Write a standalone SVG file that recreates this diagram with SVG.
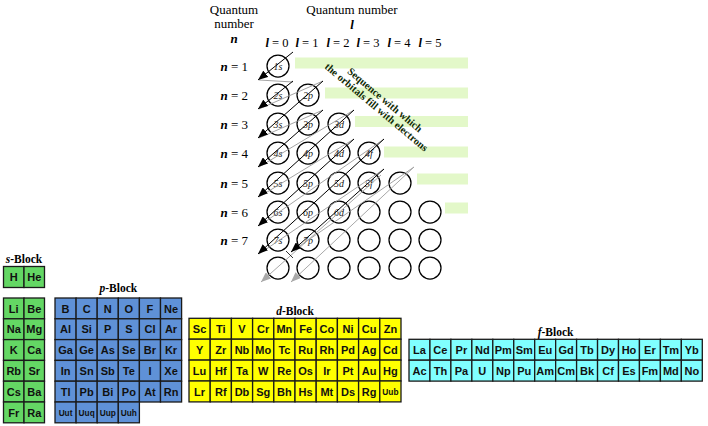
<svg xmlns="http://www.w3.org/2000/svg" width="708" height="426" viewBox="0 0 708 426">
<style>
.hd{font-family:"Liberation Serif",serif;font-size:13px;fill:#000}
.lq{font-family:"Liberation Serif",serif;font-size:12.5px;fill:#000}
.bi{font-weight:bold;font-style:italic}
.orb{fill:#fff;stroke:#000;stroke-width:1.25}
.ol{font-family:"Liberation Serif",serif;font-style:italic;font-size:10px;fill:#222;text-anchor:middle}
.bar{fill:#e3f8c9}
.seq{font-family:"Liberation Serif",serif;font-weight:bold;font-size:10.5px;fill:#0f2a05;text-anchor:middle}
.ttl{font-family:"Liberation Serif",serif;font-weight:bold;font-size:11.5px;text-anchor:middle;fill:#000}
.s{fill:#64d764;stroke:#1a1a1a;stroke-width:1.3}
.p{fill:#5f91d7;stroke:#1a1a1a;stroke-width:1.3}
.d{fill:#ffff00;stroke:#1a1a1a;stroke-width:1.3}
.f{fill:#80ffff;stroke:#1a1a1a;stroke-width:1.3}
.e{font-family:"Liberation Sans",Arial,sans-serif;font-weight:bold;font-size:11px;text-anchor:middle;fill:#111}
.es{font-size:8.3px}
.ab{stroke:#000;stroke-width:1;fill:none;marker-end:url(#hb)}
.ag{stroke:#a8a8a8;stroke-width:1;fill:none;marker-end:url(#hg)}
.zz{stroke:#9a9a9a;stroke-width:0.9;fill:none}
</style>
<defs>
<marker id="hb" markerUnits="userSpaceOnUse" markerWidth="10" markerHeight="8" refX="10" refY="4" orient="auto"><path d="M0,0 L10,4 L0,8 z" fill="#000"/></marker>
<marker id="hg" markerUnits="userSpaceOnUse" markerWidth="10" markerHeight="8" refX="10" refY="4" orient="auto"><path d="M0,0 L10,4 L0,8 z" fill="#a8a8a8"/></marker>
</defs>

<g id="headers">
<text class="hd" x="234" y="13.5" text-anchor="middle">Quantum</text>
<text class="hd" x="234" y="28" text-anchor="middle">number</text>
<text class="hd bi" x="234" y="42.5" text-anchor="middle">n</text>
<text class="hd" x="352" y="13.5" text-anchor="middle">Quantum number</text>
<text class="hd bi" x="352" y="29" text-anchor="middle">l</text>
<text class="lq" x="277" y="46.5" text-anchor="middle"><tspan class="bi">l</tspan> = 0</text>
<text class="lq" x="307" y="46.5" text-anchor="middle"><tspan class="bi">l</tspan> = 1</text>
<text class="lq" x="338" y="46.5" text-anchor="middle"><tspan class="bi">l</tspan> = 2</text>
<text class="lq" x="368" y="46.5" text-anchor="middle"><tspan class="bi">l</tspan> = 3</text>
<text class="lq" x="399" y="46.5" text-anchor="middle"><tspan class="bi">l</tspan> = 4</text>
<text class="lq" x="430" y="46.5" text-anchor="middle"><tspan class="bi">l</tspan> = 5</text>
<text class="hd" x="248" y="71" text-anchor="end" font-size="13.5"><tspan class="bi">n</tspan> = 1</text>
<text class="hd" x="248" y="100" text-anchor="end" font-size="13.5"><tspan class="bi">n</tspan> = 2</text>
<text class="hd" x="248" y="129" text-anchor="end" font-size="13.5"><tspan class="bi">n</tspan> = 3</text>
<text class="hd" x="248" y="158" text-anchor="end" font-size="13.5"><tspan class="bi">n</tspan> = 4</text>
<text class="hd" x="248" y="188" text-anchor="end" font-size="13.5"><tspan class="bi">n</tspan> = 5</text>
<text class="hd" x="248" y="217" text-anchor="end" font-size="13.5"><tspan class="bi">n</tspan> = 6</text>
<text class="hd" x="248" y="245" text-anchor="end" font-size="13.5"><tspan class="bi">n</tspan> = 7</text>
</g>

<g id="bars">
<rect class="bar" x="295" y="57.5" width="173" height="11"/>
<rect class="bar" x="325" y="87.5" width="143" height="11"/>
<rect class="bar" x="355" y="116" width="113" height="11"/>
<rect class="bar" x="384" y="146.5" width="84" height="11"/>
<rect class="bar" x="417" y="173.5" width="51" height="11"/>
<rect class="bar" x="445" y="202.5" width="23" height="11"/>
</g>

<g id="orbitals">
<g id="o1s"><circle class="orb" cx="278" cy="66" r="11"/><text class="ol" x="278" y="69.5">1s</text></g>
<g id="o2s"><circle class="orb" cx="278" cy="95" r="11"/><text class="ol" x="278" y="98.5">2s</text></g>
<g id="o2p"><circle class="orb" cx="308" cy="95" r="11"/><text class="ol" x="308" y="98.5">2p</text></g>
<g id="o3s"><circle class="orb" cx="278" cy="124" r="11"/><text class="ol" x="278" y="127.5">3s</text></g>
<g id="o3p"><circle class="orb" cx="308" cy="124" r="11"/><text class="ol" x="308" y="127.5">3p</text></g>
<g id="o3d"><circle class="orb" cx="339" cy="124" r="11"/><text class="ol" x="339" y="127.5">3d</text></g>
<g id="o4s"><circle class="orb" cx="278" cy="153" r="11"/><text class="ol" x="278" y="156.5">4s</text></g>
<g id="o4p"><circle class="orb" cx="308" cy="153" r="11"/><text class="ol" x="308" y="156.5">4p</text></g>
<g id="o4d"><circle class="orb" cx="339" cy="153" r="11"/><text class="ol" x="339" y="156.5">4d</text></g>
<g id="o4f"><circle class="orb" cx="369" cy="153" r="11"/><text class="ol" x="369" y="156.5">4f</text></g>
<g id="o5s"><circle class="orb" cx="278" cy="183" r="11"/><text class="ol" x="278" y="186.5">5s</text></g>
<g id="o5p"><circle class="orb" cx="308" cy="183" r="11"/><text class="ol" x="308" y="186.5">5p</text></g>
<g id="o5d"><circle class="orb" cx="339" cy="183" r="11"/><text class="ol" x="339" y="186.5">5d</text></g>
<g id="o5f"><circle class="orb" cx="369" cy="183" r="11"/><text class="ol" x="369" y="186.5">5f</text></g>
<g id="o5g"><circle class="orb" cx="400" cy="183" r="11"/></g>
<g id="o6s"><circle class="orb" cx="278" cy="212" r="11"/><text class="ol" x="278" y="215.5">6s</text></g>
<g id="o6p"><circle class="orb" cx="308" cy="212" r="11"/><text class="ol" x="308" y="215.5">6p</text></g>
<g id="o6d"><circle class="orb" cx="339" cy="212" r="11"/><text class="ol" x="339" y="215.5">6d</text></g>
<g id="o6f"><circle class="orb" cx="369" cy="212" r="11"/></g>
<g id="o6g"><circle class="orb" cx="400" cy="212" r="11"/></g>
<g id="o6h"><circle class="orb" cx="430" cy="212" r="11"/></g>
<g id="o7s"><circle class="orb" cx="278" cy="240" r="11"/><text class="ol" x="278" y="243.5">7s</text></g>
<g id="o7p"><circle class="orb" cx="308" cy="240" r="11"/><text class="ol" x="308" y="243.5">7p</text></g>
<g id="o7d"><circle class="orb" cx="339" cy="240" r="11"/></g>
<g id="o7f"><circle class="orb" cx="369" cy="240" r="11"/></g>
<g id="o7g"><circle class="orb" cx="400" cy="240" r="11"/></g>
<g id="o7h"><circle class="orb" cx="430" cy="240" r="11"/></g>
<g id="o8s"><circle class="orb" cx="278" cy="268" r="11"/></g>
<g id="o8p"><circle class="orb" cx="308" cy="268" r="11"/></g>
<g id="o8d"><circle class="orb" cx="339" cy="268" r="11"/></g>
<g id="o8f"><circle class="orb" cx="369" cy="268" r="11"/></g>
<g id="o8g"><circle class="orb" cx="400" cy="268" r="11"/></g>
<g id="o8h"><circle class="orb" cx="430" cy="268" r="11"/></g>
</g>

<g id="connectors">
<path class="zz" d="M259,80 L293,82"/>
<path class="zz" d="M259,109 L323,81"/>
<path class="zz" d="M259,138 L323,110"/>
<path class="zz" d="M259,167 L354,110"/>
<path class="zz" d="M259,197 L354,139"/>
<path class="zz" d="M259,226 L384,139"/>
<path class="zz" d="M259,254 L384,169"/>
<path class="zz" d="M291,252 L414,167"/>
<path class="ag" d="M414,167 L291,282"/>
<path class="ag" d="M381,175 L261,282"/>
<path class="ab" d="M293,52 L258,80"/>
<path class="ab" d="M293,81 L258,109"/>
<path class="ab" d="M323,81 L258,138"/>
<path class="ab" d="M323,110 L258,167"/>
<path class="ab" d="M354,110 L258,197"/>
<path class="ab" d="M354,139 L258,226"/>
<path class="ab" d="M384,139 L258,254"/>
<path class="ab" d="M384,169 L291,252"/>
<path d="M286,251 L293,258" stroke="#000" stroke-width="0.8"/>
</g>

<g id="sequence-label" transform="translate(385,100) rotate(40)">
<text class="seq" x="0" y="3.5">Sequence with which</text>
<text class="seq" x="-2" y="14.5">the orbitals fill with electrons</text>
</g>

<g id="s-block">
<text class="ttl" x="24" y="263"><tspan font-style="italic">s</tspan>-Block</text>
<g id="H"><rect class="s" x="3.5" y="266.5" width="20.5" height="21"/><text class="e" x="13.75" y="281">H</text></g>
<g id="He"><rect class="s" x="24" y="266.5" width="20.5" height="21"/><text class="e" x="34.25" y="281">He</text></g>
<g id="Li"><rect class="s" x="3.5" y="298" width="20.5" height="20.8"/><text class="e" x="13.75" y="312.5">Li</text></g>
<g id="Be"><rect class="s" x="24" y="298" width="20.5" height="20.8"/><text class="e" x="34.25" y="312.5">Be</text></g>
<g id="Na"><rect class="s" x="3.5" y="318.8" width="20.5" height="20.8"/><text class="e" x="13.75" y="333.3">Na</text></g>
<g id="Mg"><rect class="s" x="24" y="318.8" width="20.5" height="20.8"/><text class="e" x="34.25" y="333.3">Mg</text></g>
<g id="K"><rect class="s" x="3.5" y="339.6" width="20.5" height="20.8"/><text class="e" x="13.75" y="354.1">K</text></g>
<g id="Ca"><rect class="s" x="24" y="339.6" width="20.5" height="20.8"/><text class="e" x="34.25" y="354.1">Ca</text></g>
<g id="Rb"><rect class="s" x="3.5" y="360.4" width="20.5" height="20.8"/><text class="e" x="13.75" y="374.9">Rb</text></g>
<g id="Sr"><rect class="s" x="24" y="360.4" width="20.5" height="20.8"/><text class="e" x="34.25" y="374.9">Sr</text></g>
<g id="Cs"><rect class="s" x="3.5" y="381.2" width="20.5" height="20.8"/><text class="e" x="13.75" y="395.7">Cs</text></g>
<g id="Ba"><rect class="s" x="24" y="381.2" width="20.5" height="20.8"/><text class="e" x="34.25" y="395.7">Ba</text></g>
<g id="Fr"><rect class="s" x="3.5" y="402" width="20.5" height="20.8"/><text class="e" x="13.75" y="416.5">Fr</text></g>
<g id="Ra"><rect class="s" x="24" y="402" width="20.5" height="20.8"/><text class="e" x="34.25" y="416.5">Ra</text></g>
</g>

<g id="p-block">
<text class="ttl" x="118.3" y="292"><tspan font-style="italic">p</tspan>-Block</text>
<g id="B"><rect class="p" x="55" y="298" width="21.1" height="20.8"/><text class="e" x="65.55" y="312.5">B</text></g>
<g id="C"><rect class="p" x="76.1" y="298" width="21.1" height="20.8"/><text class="e" x="86.65" y="312.5">C</text></g>
<g id="N"><rect class="p" x="97.2" y="298" width="21.1" height="20.8"/><text class="e" x="107.75" y="312.5">N</text></g>
<g id="O"><rect class="p" x="118.3" y="298" width="21.1" height="20.8"/><text class="e" x="128.85" y="312.5">O</text></g>
<g id="F"><rect class="p" x="139.4" y="298" width="21.1" height="20.8"/><text class="e" x="149.95" y="312.5">F</text></g>
<g id="Ne"><rect class="p" x="160.5" y="298" width="21.1" height="20.8"/><text class="e" x="171.05" y="312.5">Ne</text></g>
<g id="Al"><rect class="p" x="55" y="318.8" width="21.1" height="20.8"/><text class="e" x="65.55" y="333.3">Al</text></g>
<g id="Si"><rect class="p" x="76.1" y="318.8" width="21.1" height="20.8"/><text class="e" x="86.65" y="333.3">Si</text></g>
<g id="P"><rect class="p" x="97.2" y="318.8" width="21.1" height="20.8"/><text class="e" x="107.75" y="333.3">P</text></g>
<g id="S"><rect class="p" x="118.3" y="318.8" width="21.1" height="20.8"/><text class="e" x="128.85" y="333.3">S</text></g>
<g id="Cl"><rect class="p" x="139.4" y="318.8" width="21.1" height="20.8"/><text class="e" x="149.95" y="333.3">Cl</text></g>
<g id="Ar"><rect class="p" x="160.5" y="318.8" width="21.1" height="20.8"/><text class="e" x="171.05" y="333.3">Ar</text></g>
<g id="Ga"><rect class="p" x="55" y="339.6" width="21.1" height="20.8"/><text class="e" x="65.55" y="354.1">Ga</text></g>
<g id="Ge"><rect class="p" x="76.1" y="339.6" width="21.1" height="20.8"/><text class="e" x="86.65" y="354.1">Ge</text></g>
<g id="As"><rect class="p" x="97.2" y="339.6" width="21.1" height="20.8"/><text class="e" x="107.75" y="354.1">As</text></g>
<g id="Se"><rect class="p" x="118.3" y="339.6" width="21.1" height="20.8"/><text class="e" x="128.85" y="354.1">Se</text></g>
<g id="Br"><rect class="p" x="139.4" y="339.6" width="21.1" height="20.8"/><text class="e" x="149.95" y="354.1">Br</text></g>
<g id="Kr"><rect class="p" x="160.5" y="339.6" width="21.1" height="20.8"/><text class="e" x="171.05" y="354.1">Kr</text></g>
<g id="In"><rect class="p" x="55" y="360.4" width="21.1" height="20.8"/><text class="e" x="65.55" y="374.9">In</text></g>
<g id="Sn"><rect class="p" x="76.1" y="360.4" width="21.1" height="20.8"/><text class="e" x="86.65" y="374.9">Sn</text></g>
<g id="Sb"><rect class="p" x="97.2" y="360.4" width="21.1" height="20.8"/><text class="e" x="107.75" y="374.9">Sb</text></g>
<g id="Te"><rect class="p" x="118.3" y="360.4" width="21.1" height="20.8"/><text class="e" x="128.85" y="374.9">Te</text></g>
<g id="I"><rect class="p" x="139.4" y="360.4" width="21.1" height="20.8"/><text class="e" x="149.95" y="374.9">I</text></g>
<g id="Xe"><rect class="p" x="160.5" y="360.4" width="21.1" height="20.8"/><text class="e" x="171.05" y="374.9">Xe</text></g>
<g id="Tl"><rect class="p" x="55" y="381.2" width="21.1" height="20.8"/><text class="e" x="65.55" y="395.7">Tl</text></g>
<g id="Pb"><rect class="p" x="76.1" y="381.2" width="21.1" height="20.8"/><text class="e" x="86.65" y="395.7">Pb</text></g>
<g id="Bi"><rect class="p" x="97.2" y="381.2" width="21.1" height="20.8"/><text class="e" x="107.75" y="395.7">Bi</text></g>
<g id="Po"><rect class="p" x="118.3" y="381.2" width="21.1" height="20.8"/><text class="e" x="128.85" y="395.7">Po</text></g>
<g id="At"><rect class="p" x="139.4" y="381.2" width="21.1" height="20.8"/><text class="e" x="149.95" y="395.7">At</text></g>
<g id="Rn"><rect class="p" x="160.5" y="381.2" width="21.1" height="20.8"/><text class="e" x="171.05" y="395.7">Rn</text></g>
<g id="Uut"><rect class="p" x="55" y="402" width="21.1" height="20.8"/><text class="e es" x="65.55" y="415.5">Uut</text></g>
<g id="Uuq"><rect class="p" x="76.1" y="402" width="21.1" height="20.8"/><text class="e es" x="86.65" y="415.5">Uuq</text></g>
<g id="Uup"><rect class="p" x="97.2" y="402" width="21.1" height="20.8"/><text class="e es" x="107.75" y="415.5">Uup</text></g>
<g id="Uuh"><rect class="p" x="118.3" y="402" width="21.1" height="20.8"/><text class="e es" x="128.85" y="415.5">Uuh</text></g>
</g>

<g id="d-block">
<text class="ttl" x="295" y="315"><tspan font-style="italic">d</tspan>-Block</text>
<g id="Sc"><rect class="d" x="189" y="318.3" width="21.2" height="20.9"/><text class="e" x="199.6" y="332.9">Sc</text></g>
<g id="Ti"><rect class="d" x="210.2" y="318.3" width="21.2" height="20.9"/><text class="e" x="220.8" y="332.9">Ti</text></g>
<g id="V"><rect class="d" x="231.4" y="318.3" width="21.2" height="20.9"/><text class="e" x="242" y="332.9">V</text></g>
<g id="Cr"><rect class="d" x="252.6" y="318.3" width="21.2" height="20.9"/><text class="e" x="263.2" y="332.9">Cr</text></g>
<g id="Mn"><rect class="d" x="273.8" y="318.3" width="21.2" height="20.9"/><text class="e" x="284.4" y="332.9">Mn</text></g>
<g id="Fe"><rect class="d" x="295" y="318.3" width="21.2" height="20.9"/><text class="e" x="305.6" y="332.9">Fe</text></g>
<g id="Co"><rect class="d" x="316.2" y="318.3" width="21.2" height="20.9"/><text class="e" x="326.8" y="332.9">Co</text></g>
<g id="Ni"><rect class="d" x="337.4" y="318.3" width="21.2" height="20.9"/><text class="e" x="348" y="332.9">Ni</text></g>
<g id="Cu"><rect class="d" x="358.6" y="318.3" width="21.2" height="20.9"/><text class="e" x="369.2" y="332.9">Cu</text></g>
<g id="Zn"><rect class="d" x="379.8" y="318.3" width="21.2" height="20.9"/><text class="e" x="390.4" y="332.9">Zn</text></g>
<g id="Y"><rect class="d" x="189" y="339.2" width="21.2" height="20.9"/><text class="e" x="199.6" y="353.8">Y</text></g>
<g id="Zr"><rect class="d" x="210.2" y="339.2" width="21.2" height="20.9"/><text class="e" x="220.8" y="353.8">Zr</text></g>
<g id="Nb"><rect class="d" x="231.4" y="339.2" width="21.2" height="20.9"/><text class="e" x="242" y="353.8">Nb</text></g>
<g id="Mo"><rect class="d" x="252.6" y="339.2" width="21.2" height="20.9"/><text class="e" x="263.2" y="353.8">Mo</text></g>
<g id="Tc"><rect class="d" x="273.8" y="339.2" width="21.2" height="20.9"/><text class="e" x="284.4" y="353.8">Tc</text></g>
<g id="Ru"><rect class="d" x="295" y="339.2" width="21.2" height="20.9"/><text class="e" x="305.6" y="353.8">Ru</text></g>
<g id="Rh"><rect class="d" x="316.2" y="339.2" width="21.2" height="20.9"/><text class="e" x="326.8" y="353.8">Rh</text></g>
<g id="Pd"><rect class="d" x="337.4" y="339.2" width="21.2" height="20.9"/><text class="e" x="348" y="353.8">Pd</text></g>
<g id="Ag"><rect class="d" x="358.6" y="339.2" width="21.2" height="20.9"/><text class="e" x="369.2" y="353.8">Ag</text></g>
<g id="Cd"><rect class="d" x="379.8" y="339.2" width="21.2" height="20.9"/><text class="e" x="390.4" y="353.8">Cd</text></g>
<g id="Lu"><rect class="d" x="189" y="360.1" width="21.2" height="20.9"/><text class="e" x="199.6" y="374.7">Lu</text></g>
<g id="Hf"><rect class="d" x="210.2" y="360.1" width="21.2" height="20.9"/><text class="e" x="220.8" y="374.7">Hf</text></g>
<g id="Ta"><rect class="d" x="231.4" y="360.1" width="21.2" height="20.9"/><text class="e" x="242" y="374.7">Ta</text></g>
<g id="W"><rect class="d" x="252.6" y="360.1" width="21.2" height="20.9"/><text class="e" x="263.2" y="374.7">W</text></g>
<g id="Re"><rect class="d" x="273.8" y="360.1" width="21.2" height="20.9"/><text class="e" x="284.4" y="374.7">Re</text></g>
<g id="Os"><rect class="d" x="295" y="360.1" width="21.2" height="20.9"/><text class="e" x="305.6" y="374.7">Os</text></g>
<g id="Ir"><rect class="d" x="316.2" y="360.1" width="21.2" height="20.9"/><text class="e" x="326.8" y="374.7">Ir</text></g>
<g id="Pt"><rect class="d" x="337.4" y="360.1" width="21.2" height="20.9"/><text class="e" x="348" y="374.7">Pt</text></g>
<g id="Au"><rect class="d" x="358.6" y="360.1" width="21.2" height="20.9"/><text class="e" x="369.2" y="374.7">Au</text></g>
<g id="Hg"><rect class="d" x="379.8" y="360.1" width="21.2" height="20.9"/><text class="e" x="390.4" y="374.7">Hg</text></g>
<g id="Lr"><rect class="d" x="189" y="381" width="21.2" height="20.9"/><text class="e" x="199.6" y="395.6">Lr</text></g>
<g id="Rf"><rect class="d" x="210.2" y="381" width="21.2" height="20.9"/><text class="e" x="220.8" y="395.6">Rf</text></g>
<g id="Db"><rect class="d" x="231.4" y="381" width="21.2" height="20.9"/><text class="e" x="242" y="395.6">Db</text></g>
<g id="Sg"><rect class="d" x="252.6" y="381" width="21.2" height="20.9"/><text class="e" x="263.2" y="395.6">Sg</text></g>
<g id="Bh"><rect class="d" x="273.8" y="381" width="21.2" height="20.9"/><text class="e" x="284.4" y="395.6">Bh</text></g>
<g id="Hs"><rect class="d" x="295" y="381" width="21.2" height="20.9"/><text class="e" x="305.6" y="395.6">Hs</text></g>
<g id="Mt"><rect class="d" x="316.2" y="381" width="21.2" height="20.9"/><text class="e" x="326.8" y="395.6">Mt</text></g>
<g id="Ds"><rect class="d" x="337.4" y="381" width="21.2" height="20.9"/><text class="e" x="348" y="395.6">Ds</text></g>
<g id="Rg"><rect class="d" x="358.6" y="381" width="21.2" height="20.9"/><text class="e" x="369.2" y="395.6">Rg</text></g>
<g id="Uub"><rect class="d" x="379.8" y="381" width="21.2" height="20.9"/><text class="e es" x="390.4" y="395">Uub</text></g>
</g>

<g id="f-block">
<text class="ttl" x="555.6" y="336"><tspan font-style="italic">f</tspan>-Block</text>
<g id="La"><rect class="f" x="409" y="339.3" width="20.95" height="20.9"/><text class="e" x="419.5" y="353.9">La</text></g>
<g id="Ce"><rect class="f" x="429.95" y="339.3" width="20.95" height="20.9"/><text class="e" x="440.4" y="353.9">Ce</text></g>
<g id="Pr"><rect class="f" x="450.9" y="339.3" width="20.95" height="20.9"/><text class="e" x="461.4" y="353.9">Pr</text></g>
<g id="Nd"><rect class="f" x="471.85" y="339.3" width="20.95" height="20.9"/><text class="e" x="482.3" y="353.9">Nd</text></g>
<g id="Pm"><rect class="f" x="492.8" y="339.3" width="20.95" height="20.9"/><text class="e" x="503.3" y="353.9">Pm</text></g>
<g id="Sm"><rect class="f" x="513.75" y="339.3" width="20.95" height="20.9"/><text class="e" x="524.2" y="353.9">Sm</text></g>
<g id="Eu"><rect class="f" x="534.7" y="339.3" width="20.95" height="20.9"/><text class="e" x="545.2" y="353.9">Eu</text></g>
<g id="Gd"><rect class="f" x="555.65" y="339.3" width="20.95" height="20.9"/><text class="e" x="566.1" y="353.9">Gd</text></g>
<g id="Tb"><rect class="f" x="576.6" y="339.3" width="20.95" height="20.9"/><text class="e" x="587.1" y="353.9">Tb</text></g>
<g id="Dy"><rect class="f" x="597.55" y="339.3" width="20.95" height="20.9"/><text class="e" x="608" y="353.9">Dy</text></g>
<g id="Ho"><rect class="f" x="618.5" y="339.3" width="20.95" height="20.9"/><text class="e" x="629" y="353.9">Ho</text></g>
<g id="Er"><rect class="f" x="639.45" y="339.3" width="20.95" height="20.9"/><text class="e" x="649.9" y="353.9">Er</text></g>
<g id="Tm"><rect class="f" x="660.4" y="339.3" width="20.95" height="20.9"/><text class="e" x="670.9" y="353.9">Tm</text></g>
<g id="Yb"><rect class="f" x="681.35" y="339.3" width="20.95" height="20.9"/><text class="e" x="691.8" y="353.9">Yb</text></g>
<g id="Ac"><rect class="f" x="409" y="360.2" width="20.95" height="20.9"/><text class="e" x="419.5" y="374.8">Ac</text></g>
<g id="Th"><rect class="f" x="429.95" y="360.2" width="20.95" height="20.9"/><text class="e" x="440.4" y="374.8">Th</text></g>
<g id="Pa"><rect class="f" x="450.9" y="360.2" width="20.95" height="20.9"/><text class="e" x="461.4" y="374.8">Pa</text></g>
<g id="U"><rect class="f" x="471.85" y="360.2" width="20.95" height="20.9"/><text class="e" x="482.3" y="374.8">U</text></g>
<g id="Np"><rect class="f" x="492.8" y="360.2" width="20.95" height="20.9"/><text class="e" x="503.3" y="374.8">Np</text></g>
<g id="Pu"><rect class="f" x="513.75" y="360.2" width="20.95" height="20.9"/><text class="e" x="524.2" y="374.8">Pu</text></g>
<g id="Am"><rect class="f" x="534.7" y="360.2" width="20.95" height="20.9"/><text class="e" x="545.2" y="374.8">Am</text></g>
<g id="Cm"><rect class="f" x="555.65" y="360.2" width="20.95" height="20.9"/><text class="e" x="566.1" y="374.8">Cm</text></g>
<g id="Bk"><rect class="f" x="576.6" y="360.2" width="20.95" height="20.9"/><text class="e" x="587.1" y="374.8">Bk</text></g>
<g id="Cf"><rect class="f" x="597.55" y="360.2" width="20.95" height="20.9"/><text class="e" x="608" y="374.8">Cf</text></g>
<g id="Es"><rect class="f" x="618.5" y="360.2" width="20.95" height="20.9"/><text class="e" x="629" y="374.8">Es</text></g>
<g id="Fm"><rect class="f" x="639.45" y="360.2" width="20.95" height="20.9"/><text class="e" x="649.9" y="374.8">Fm</text></g>
<g id="Md"><rect class="f" x="660.4" y="360.2" width="20.95" height="20.9"/><text class="e" x="670.9" y="374.8">Md</text></g>
<g id="No"><rect class="f" x="681.35" y="360.2" width="20.95" height="20.9"/><text class="e" x="691.8" y="374.8">No</text></g>
</g>
</svg>
